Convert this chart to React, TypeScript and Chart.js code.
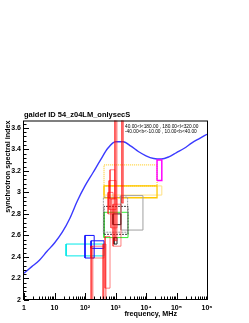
import React, { useEffect, useRef } from 'react';
import { Chart, registerables } from 'chart.js';

Chart.register(...registerables);

const FONT = "'Liberation Sans', Arial, Helvetica, sans-serif";

// model curve: frequency (MHz) and synchrotron spectral index
const curveFreq = [1, 1.8, 3.2, 5.6, 10, 18, 32, 56, 100, 180, 320, 560, 1000, 1800, 3200, 5600, 1e4, 1.8e4, 3.2e4, 5.6e4, 1e5, 1.8e5, 3.2e5, 5.6e5, 1e6];
const curveIndex = [2.25, 2.31, 2.37, 2.45, 2.53, 2.63, 2.76, 2.92, 3.06, 3.18, 3.3, 3.41, 3.47, 3.47, 3.43, 3.38, 3.34, 3.315, 3.31, 3.33, 3.37, 3.41, 3.46, 3.5, 3.54];

// measurement boxes: [freqLo, freqHi, indexLo, indexHi]
const redBoxes = [
  [661, 955, 2.94, 3.21],
  [613, 1050, 2.84, 3.11],
  [570, 830, 2.8, 3.0],
  [710, 1120, 2.67, 2.94],
  [830, 1510, 2.5, 2.89],
  [455, 661, 2.11, 2.59],
  [158, 420, 2.39, 2.5],
];
const redBands = [
  [955, 1120, 2.55, 4.0],
  [1620, 1820, 2.9, 4.0],
  [158, 182, 1.9, 2.5],
  [390, 490, 1.9, 2.52],
];
const blueBoxes = [
  [100, 200, 2.39, 2.6],
  [158, 420, 2.48, 2.55],
];
const cyanBoxes = [[24, 420, 2.41, 2.52]];
const greenBoxes = [[420, 2570, 2.58, 2.815]];
const goldBoxes = [[420, 23000, 2.95, 3.06]];
const goldDottedBoxes = [[420, 23000, 3.06, 3.256]];
const lightYellowBoxes = [[420, 33000, 2.975, 3.06]];
const magentaBoxes = [[23000, 33000, 3.11, 3.3]];
const grayBoxes = [[1510, 7940, 2.65, 2.97]];
const grayDashedBoxes = [[400, 2500, 2.63, 2.955]];
const blackBoxes = [
  [830, 1500, 2.7, 2.8],
  [890, 1120, 2.52, 2.58],
];
const blackDashedBoxes = [[420, 2570, 2.61, 2.87]];

const xTickValues = [1, 10, 100, 1000, 1e4, 1e5, 1e6];
const xTickLabels = ['1', '10', '10²', '10³', '10⁴', '10⁵', '10⁶'];
const yTickValues = [2, 2.2, 2.4, 2.6, 2.8, 3, 3.2, 3.4, 3.6];
const yTickLabels = ['2', '2.2', '2.4', '2.6', '2.8', '3', '3.2', '3.4', '3.6'];

const titleText = 'galdef ID 54_z04LM_onlysecS';
const xTitle = 'frequency, MHz';
const yTitle = 'synchrotron spectral index';
const regionLines = ['40.00<l<180.00 , 180.00<l<320.00', '-40.00<b<-10.00 , 10.00<b<40.00'];

function boxDatasets(boxes: number[][], style: any) {
  return boxes.map((b) => {
    const [x1, x2, y1, y2] = b;
    return {
      data: [
        { x: x1, y: y1 },
        { x: x2, y: y1 },
        { x: x2, y: y2 },
        { x: x1, y: y2 },
        { x: x1, y: y1 },
      ],
      showLine: true,
      pointRadius: 0,
      tension: 0,
      fill: false,
      borderWidth: 1,
      ...style,
    };
  });
}

const rootFrame = {
  id: 'rootFrame',
  afterDatasetsDraw(chart: any) {
    const { ctx, chartArea: a, scales } = chart;
    const x = scales.x;
    const y = scales.y;
    ctx.save();
    ctx.strokeStyle = '#000';
    ctx.lineWidth = 1;
    ctx.strokeRect(a.left - 0.5, a.top + 0.5, a.right - a.left + 1, a.bottom - a.top - 1);
    ctx.beginPath();
    // y ticks
    for (let k = 0; k <= 45; k++) {
      const v = 2 + k * 0.04;
      if (v > y.max) break;
      const py = Math.round(y.getPixelForValue(v)) + 0.5;
      const major = k % 5 === 0;
      ctx.moveTo(a.left, py);
      ctx.lineTo(a.left + (major ? 5 : 2.5), py);
    }
    // x ticks
    for (let d = 0; d <= 6; d++) {
      for (let m = 1; m <= 9; m++) {
        const v = m * Math.pow(10, d);
        if (v > x.max) break;
        const px = Math.round(x.getPixelForValue(v)) + 0.5;
        ctx.moveTo(px, a.bottom);
        ctx.lineTo(px, a.bottom - (m === 1 ? 7 : 3.5));
      }
    }
    ctx.stroke();

    ctx.fillStyle = '#000';
    ctx.font = `bold 7.2px ${FONT}`;
    ctx.textBaseline = 'middle';
    ctx.textAlign = 'right';
    ctx.fillText(xTitle, 177, 314);

    ctx.save();
    ctx.translate(8.5, a.top);
    ctx.rotate(-Math.PI / 2);
    ctx.textAlign = 'right';
    ctx.fillText(yTitle, 0, 0);
    ctx.restore();

    ctx.font = `4.8px ${FONT}`;
    ctx.textAlign = 'left';
    ctx.fillText(regionLines[0], 125, 127);
    ctx.fillText(regionLines[1], 125, 131.5);
    ctx.restore();
  },
};

export default function App() {
  const ref = useRef<HTMLCanvasElement>(null);
  useEffect(() => {
    if (!ref.current) return;
    const red = 'rgba(255,0,0,0.5)';
    const datasets: any[] = [
      ...boxDatasets(redBands, { borderColor: 'rgba(255,0,0,0.45)', backgroundColor: 'rgba(255,40,40,0.35)', fill: 'shape' }),
      ...boxDatasets(redBoxes, { borderColor: red }),
      ...boxDatasets(blackBoxes, { borderColor: '#222' }),
      ...boxDatasets(blackDashedBoxes, { borderColor: '#444', borderDash: [2, 1] }),
      ...boxDatasets(grayDashedBoxes, { borderColor: '#999', borderDash: [2, 1] }),
      ...boxDatasets(grayBoxes, { borderColor: '#a0a0a0' }),
      ...boxDatasets(greenBoxes, { borderColor: '#33ee33' }),
      ...boxDatasets(blueBoxes, { borderColor: '#1010ff' }),
      ...boxDatasets(cyanBoxes, { borderColor: '#00e8e8' }),
      ...boxDatasets(magentaBoxes, { borderColor: '#ff00ff', borderWidth: 1.5 }),
      ...boxDatasets(goldBoxes, { borderColor: 'rgb(255,200,0)', borderWidth: 1.3 }),
      ...boxDatasets(goldDottedBoxes, { borderColor: 'rgb(255,210,60)', borderDash: [1, 1], borderWidth: 1.3 }),
      ...boxDatasets(lightYellowBoxes, { borderColor: 'rgb(255,225,130)' }),
      {
        data: curveFreq.map((f, i) => ({ x: f, y: curveIndex[i] })),
        showLine: true,
        pointRadius: 0,
        borderColor: '#3a3aff',
        borderWidth: 1.4,
        cubicInterpolationMode: 'monotone',
        fill: false,
      },
    ];
    const tickFont = { family: FONT, size: 7, weight: 'bold' as const };
    const chart = new Chart(ref.current, {
      type: 'scatter',
      data: { datasets },
      options: {
        animation: false,
        responsive: false,
        devicePixelRatio: 1,
        layout: { padding: { left: 0, top: 111, right: 42, bottom: 0 } },
        plugins: {
          legend: { display: false },
          tooltip: { enabled: false },
          title: {
            display: true,
            text: titleText,
            align: 'start',
            fullSize: false,
            color: '#000',
            font: { family: FONT, size: 7.5, weight: 'bold', lineHeight: 1 },
            padding: { top: 0, bottom: 2 },
          },
        },
        scales: {
          x: {
            type: 'logarithmic',
            min: 1,
            max: 1e6,
            afterBuildTicks: (s: any) => {
              s.ticks = xTickValues.map((v) => ({ value: v }));
            },
            afterFit: (s: any) => {
              s.height = 23;
            },
            grid: { display: false, drawTicks: false },
            border: { display: false },
            ticks: {
              autoSkip: false,
              maxRotation: 0,
              minRotation: 0,
              padding: 4,
              color: '#000',
              font: tickFont,
              callback: (_v: any, i: number) => xTickLabels[i],
            },
          },
          y: {
            type: 'linear',
            min: 2,
            max: 3.668,
            afterBuildTicks: (s: any) => {
              s.ticks = yTickValues.map((v) => ({ value: v }));
            },
            afterFit: (s: any) => {
              s.width = 24;
            },
            grid: { display: false, drawTicks: false },
            border: { display: false },
            ticks: {
              autoSkip: false,
              padding: 3,
              color: '#000',
              font: tickFont,
              callback: (_v: any, i: number) => yTickLabels[i],
            },
          },
        },
      } as any,
      plugins: [rootFrame],
    });
    return () => chart.destroy();
  }, []);
  return (
    <div style={{ position: 'absolute', left: 0, top: 0, width: 249, height: 323, background: '#fff' }}>
      <canvas ref={ref} width={249} height={323} style={{ display: 'block' }} />
    </div>
  );
}
